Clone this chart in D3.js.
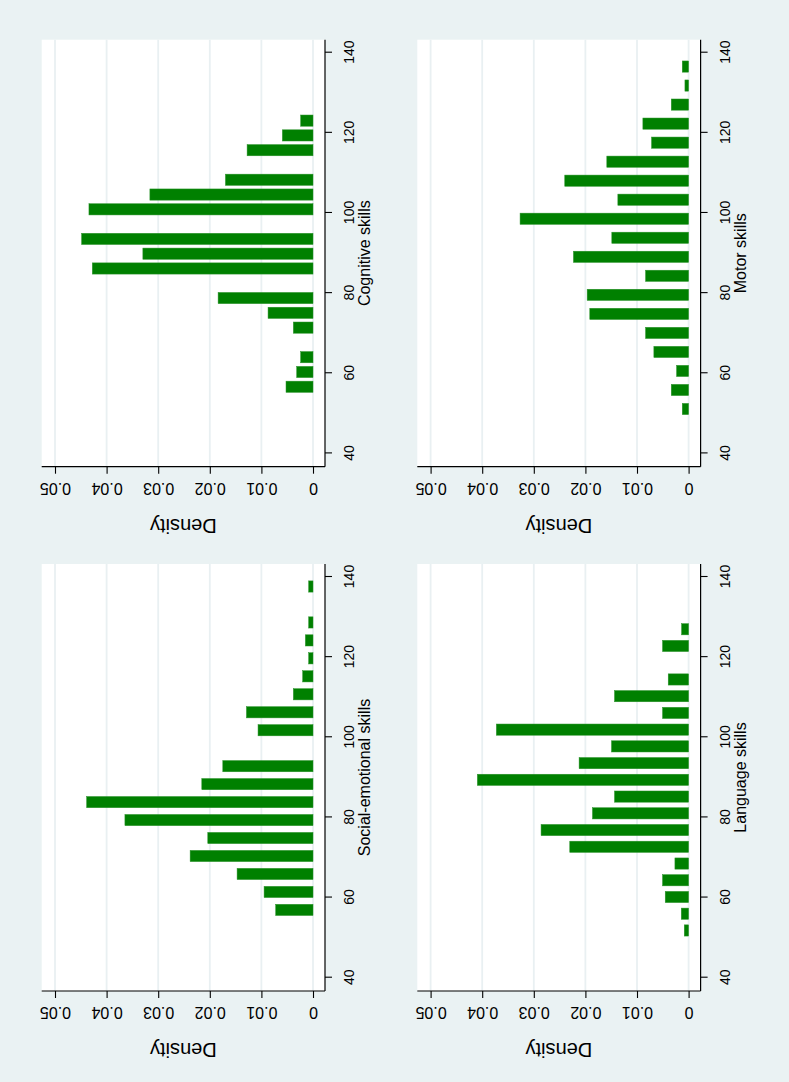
<!DOCTYPE html>
<html>
<head>
<meta charset="utf-8">
<script src="https://cdn.jsdelivr.net/npm/d3@7"></script>
<style>
html,body{margin:0;padding:0;background:#EAF2F3;}
svg{display:block;font-family:"Liberation Sans",Arial,Helvetica,sans-serif;}
</style>
</head>
<body>
<svg id="chart" width="789" height="1082"></svg>
<script>
// ---- data ----
const xTicks = [40, 60, 80, 100, 120, 140];
const yTicks = [0, 0.01, 0.02, 0.03, 0.04, 0.05];
const yTitle = "Density";

const seTitle = "Social-emotional skills";
const seCenters = [56.92, 61.40, 65.89, 70.37, 74.86, 79.34, 83.82, 88.31, 92.79, 97.28, 101.76, 106.24, 110.73, 115.21, 119.70, 124.18, 128.66, 133.15, 137.63];
const seDensity = [0.00723, 0.00948, 0.01471, 0.02381, 0.02039, 0.03645, 0.04387, 0.02155, 0.01748, 0, 0.01065, 0.0129, 0.00381, 0.0020, 0.00084, 0.00148, 0.00084, 0, 0.00084];

const cogTitle = "Cognitive skills";
const cogCenters = [56.63, 60.32, 64.01, 67.70, 71.39, 75.08, 78.77, 82.46, 86.15, 89.84, 93.53, 97.22, 100.91, 104.60, 108.29, 111.98, 115.67, 119.36, 123.05];
const cogDensity = [0.00523, 0.00316, 0.00239, 0, 0.00381, 0.00871, 0.01839, 0, 0.04277, 0.03297, 0.04484, 0, 0.04342, 0.03161, 0.01697, 0, 0.01277, 0.00594, 0.00239];

const langTitle = "Language skills";
const langCenters = [51.79, 55.97, 60.14, 64.32, 68.49, 72.67, 76.85, 81.02, 85.20, 89.38, 93.55, 97.73, 101.91, 106.08, 110.26, 114.43, 118.61, 122.79, 126.96];
const langDensity = [0.00084, 0.00142, 0.00453, 0.00505, 0.00265, 0.02303, 0.02859, 0.01863, 0.01436, 0.04094, 0.02122, 0.01494, 0.03726, 0.00505, 0.01436, 0.00395, 0, 0.00505, 0.00136];

const motorTitle = "Motor skills";
const motorCenters = [51.08, 55.83, 60.58, 65.32, 70.07, 74.82, 79.57, 84.32, 89.06, 93.81, 98.56, 103.31, 108.06, 112.80, 117.55, 122.30, 127.05, 131.80, 136.54];
const motorDensity = [0.00123, 0.00336, 0.00233, 0.00673, 0.00834, 0.01915, 0.01966, 0.00834, 0.02232, 0.01488, 0.03266, 0.01371, 0.024, 0.01585, 0.00718, 0.00886, 0.00336, 0.00071, 0.00123];

// ---- layout / style ----
const W = 789, H = 1082;
const BG = "#EAF2F3", GRID = "#E9F0F2", BAR = "#008000";
const barThick = 11.2;
const tickFs = 14, yTickFs = 16, titleFs = 16, yTitleFs = 20;

const panels = [
  {title: seTitle,    centers: seCenters,    dens: seDensity,    col: 0, row: 0},
  {title: cogTitle,   centers: cogCenters,   dens: cogDensity,   col: 1, row: 0},
  {title: langTitle,  centers: langCenters,  dens: langDensity,  col: 0, row: 1},
  {title: motorTitle, centers: motorCenters, dens: motorDensity, col: 1, row: 1}
];

const svg = d3.select("#chart");
svg.append("rect").attr("width", W).attr("height", H).attr("fill", BG);

// Stata graph drawn unrotated, then turned 90° counter-clockwise
const root = svg.append("g").attr("transform", `translate(0,${H}) rotate(-90)`);

panels.forEach(p => {
  const ox = p.col * 524.3, oy = p.row * 375.6;
  const pl = 91 + ox, pr = 518 + ox, pt = 41.7 + oy, pb = 325 + oy;
  const x = d3.scaleLinear().domain([40, 140]).range([104.3 + ox, 505 + ox]);
  const y = d3.scaleLinear().domain([0, 0.05]).range([313 + oy, 55 + oy]);
  const g = root.append("g");

  g.append("rect").attr("x", pl).attr("y", pt).attr("width", pr - pl).attr("height", pb - pt).attr("fill", "#fff");

  g.selectAll("line.grid").data(yTicks).join("line")
    .attr("class", "grid")
    .attr("x1", pl).attr("x2", pr)
    .attr("y1", d => y(d)).attr("y2", d => y(d))
    .attr("stroke", GRID).attr("stroke-width", 1.8);

  const bins = p.centers.map((c, i) => ({c, d: p.dens[i]})).filter(b => b.d > 0);
  g.selectAll("rect.bar").data(bins).join("rect")
    .attr("class", "bar")
    .attr("x", b => x(b.c) - barThick / 2)
    .attr("width", barThick)
    .attr("y", b => y(b.d))
    .attr("height", b => y(0) - y(b.d))
    .attr("fill", BAR)
    .attr("stroke", "#2a922a").attr("stroke-width", 0.5);

  // x axis (value)
  const xa = g.append("g").attr("transform", `translate(0,${pb})`)
    .call(d3.axisBottom(x).tickValues(xTicks).tickSize(7).tickSizeOuter(0).tickPadding(12));
  xa.select(".domain").remove();
  xa.selectAll(".tick line").attr("stroke", "#000").attr("stroke-width", 1.1);
  xa.selectAll(".tick text").attr("font-size", tickFs).attr("font-family", null).attr("fill", "#000");
  g.append("line").attr("x1", pl).attr("x2", pr).attr("y1", pb).attr("y2", pb)
    .attr("stroke", "#000").attr("stroke-width", 1.2);

  // y axis (density)
  const ya = g.append("g").attr("transform", `translate(${pl},0)`)
    .call(d3.axisLeft(y).tickValues(yTicks).tickSize(7).tickSizeOuter(0)
      .tickFormat(d => d === 0 ? "0" : d.toFixed(2)));
  ya.select(".domain").remove();
  ya.selectAll(".tick line").attr("stroke", "#000").attr("stroke-width", 1.1);
  ya.selectAll(".tick text")
    .attr("x", null).attr("dy", null)
    .attr("transform", "translate(-16,0) rotate(-90)")
    .attr("text-anchor", "middle")
    .attr("font-size", yTickFs).attr("font-family", null).attr("fill", "#000");
  g.append("line").attr("x1", pl).attr("x2", pl).attr("y1", pt).attr("y2", pb)
    .attr("stroke", "#000").attr("stroke-width", 1.2);

  // titles
  g.append("text").attr("x", (pl + pr) / 2).attr("y", pb + 45)
    .attr("text-anchor", "middle").attr("font-size", titleFs).attr("fill", "#000")
    .text(p.title);
  g.append("text").attr("transform", `translate(${pl - 52},${(pt + pb) / 2}) rotate(-90)`)
    .attr("text-anchor", "middle").attr("font-size", yTitleFs).attr("fill", "#000")
    .text(yTitle);
});
</script>
</body>
</html>
